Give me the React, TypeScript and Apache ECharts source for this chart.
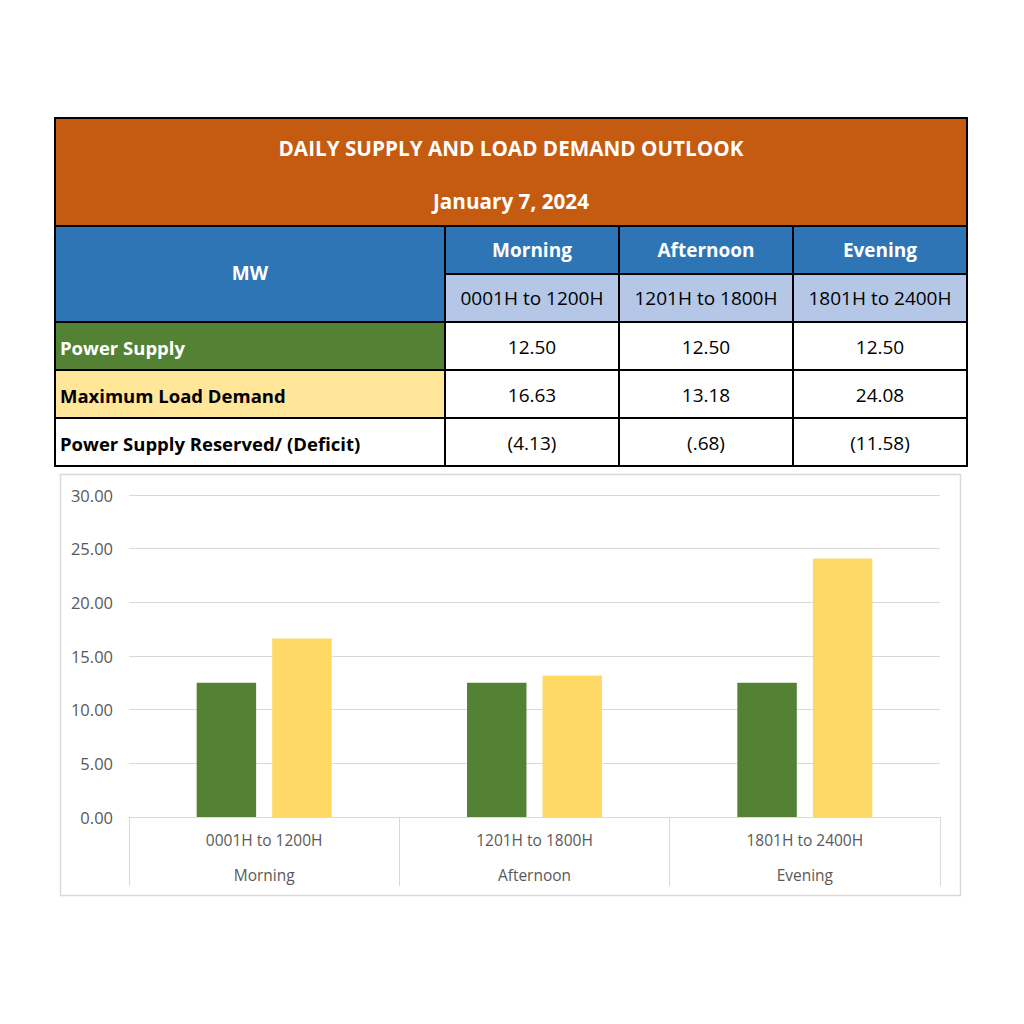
import React, { useEffect, useRef } from "react";
import * as echarts from "echarts";

const title = "DAILY SUPPLY AND LOAD DEMAND OUTLOOK";
const dateLabel = "January 7, 2024";
const unitLabel = "MW";
const periods = ["Morning", "Afternoon", "Evening"];
const timeRanges = ["0001H to 1200H", "1201H to 1800H", "1801H to 2400H"];
const rowLabels = ["Power Supply", "Maximum Load Demand", "Power Supply Reserved/ (Deficit)"];
const powerSupply = [12.5, 12.5, 12.5];
const loadDemand = [16.63, 13.18, 24.08];
const yTicks = [0, 5, 10, 15, 20, 25, 30];

const FONT = "'Open Sans', Lato, sans-serif";
const GREEN = "#548235";
const YELLOW = "#FFD966";

function fmtParen(v: number): string {
  const s = Math.abs(v).toFixed(2).replace(/^0\./, ".");
  return v < 0 ? `(${s})` : s;
}

function txt(text: string, x: number, y: number, opts: any = {}) {
  const align = opts.align || "center";
  return {
    type: "text",
    z: 20,
    style: {
      text,
      x,
      y,
      fill: opts.fill || "#000",
      font: `${opts.weight || "normal"} ${opts.size || 19}px ${FONT}`,
      align,
      textAlign: align,
      verticalAlign: "middle",
      textVerticalAlign: "middle",
    },
  };
}

function cell(x: number, y: number, w: number, h: number, fill: string) {
  return {
    type: "rect",
    z: 10,
    shape: { x, y, width: w, height: h },
    style: { fill, stroke: "#000", lineWidth: 2 },
  };
}

export default function App() {
  const ref = useRef<HTMLDivElement>(null);
  useEffect(() => {
    if (!ref.current) return;
    const chart = echarts.init(ref.current, undefined, { renderer: "svg" });

    const L = 55, R = 967, MWR = 445;
    const colX = [445, 619, 793, 967];
    const g: any[] = [];
    g.push({
      type: "rect",
      z: 0,
      shape: { x: 60.5, y: 474.5, width: 900, height: 421 },
      style: { fill: "none", stroke: "#D9D9D9", lineWidth: 1.5 },
    });
    g.push(cell(L, 118, R - L, 108, "#C55A11"));
    g.push(txt(title, (L + R) / 2, 148, { fill: "#fff", weight: "bold", size: 20.7 }));
    g.push(txt(dateLabel, (L + R) / 2, 201, { fill: "#fff", weight: "bold", size: 20.7 }));
    g.push(cell(L, 226, MWR - L, 96, "#2E75B6"));
    g.push(txt(unitLabel, (L + MWR) / 2, 273, { fill: "#fff", weight: "bold", size: 19 }));
    for (let i = 0; i < 3; i++) {
      const x0 = colX[i], x1 = colX[i + 1];
      g.push(cell(x0, 226, x1 - x0, 48, "#2E75B6"));
      g.push(txt(periods[i], (x0 + x1) / 2, 250, { fill: "#fff", weight: "bold", size: 19 }));
      g.push(cell(x0, 274, x1 - x0, 48, "#B4C7E7"));
      g.push(txt(timeRanges[i], (x0 + x1) / 2, 298, { size: 19 }));
    }
    const rowY = [322, 370, 418];
    const rowFill = [GREEN, "#FFE699", "#FFFFFF"];
    const rowText = ["#fff", "#000", "#000"];
    const rowVals = [
      powerSupply.map((v) => v.toFixed(2)),
      loadDemand.map((v) => v.toFixed(2)),
      powerSupply.map((v, i) => fmtParen(+(v - loadDemand[i]).toFixed(2))),
    ];
    for (let r = 0; r < 3; r++) {
      const y = rowY[r];
      g.push(cell(L, y, MWR - L, 48, rowFill[r]));
      g.push(txt(rowLabels[r], L + 5, y + 25, { fill: rowText[r], weight: "bold", size: 18.5, align: "left" }));
      for (let i = 0; i < 3; i++) {
        const x0 = colX[i], x1 = colX[i + 1];
        g.push(cell(x0, y, x1 - x0, 48, "#FFFFFF"));
        g.push(txt(rowVals[r][i], (x0 + x1) / 2, y + 25, { size: 19 }));
      }
    }

    chart.setOption({
      animation: false,
      backgroundColor: "#fff",
      textStyle: { fontFamily: FONT },
      graphic: g,
      grid: { left: 129, right: 84, top: 495, bottom: 207, containLabel: false },
      xAxis: {
        type: "category",
        data: timeRanges.map((t, i) => `${t}\n${periods[i]}`),
        axisLine: { show: true, lineStyle: { color: "#D9D9D9", width: 1 } },
        axisTick: { show: true, length: 69, interval: 0, alignWithLabel: false, lineStyle: { color: "#D9D9D9" } },
        axisLabel: {
          interval: 0,
          margin: 5,
          color: "#595959",
          fontSize: 15.5,
          lineHeight: 35,
          fontFamily: FONT,
        },
      },
      yAxis: {
        type: "value",
        min: 0,
        max: 30,
        interval: 5,
        axisLine: { show: false },
        axisTick: { show: false },
        splitLine: { lineStyle: { color: "#D9D9D9", width: 1 } },
        axisLabel: {
          color: "#595959",
          fontSize: 16.5,
          margin: 16,
          fontFamily: FONT,
          formatter: (v: number) => (yTicks.includes(v) ? v.toFixed(2) : ""),
        },
      },
      series: [
        {
          name: rowLabels[0],
          type: "bar",
          data: powerSupply,
          barWidth: "22%",
          barGap: "27%",
          itemStyle: { color: GREEN },
        },
        {
          name: rowLabels[1],
          type: "bar",
          data: loadDemand,
          barWidth: "22%",
          itemStyle: { color: YELLOW },
        },
      ],
    });
    return () => chart.dispose();
  }, []);
  return (
    <div
      ref={ref}
      style={{ position: "absolute", left: 0, top: 0, width: 1024, height: 1024, background: "#fff" }}
    />
  );
}
